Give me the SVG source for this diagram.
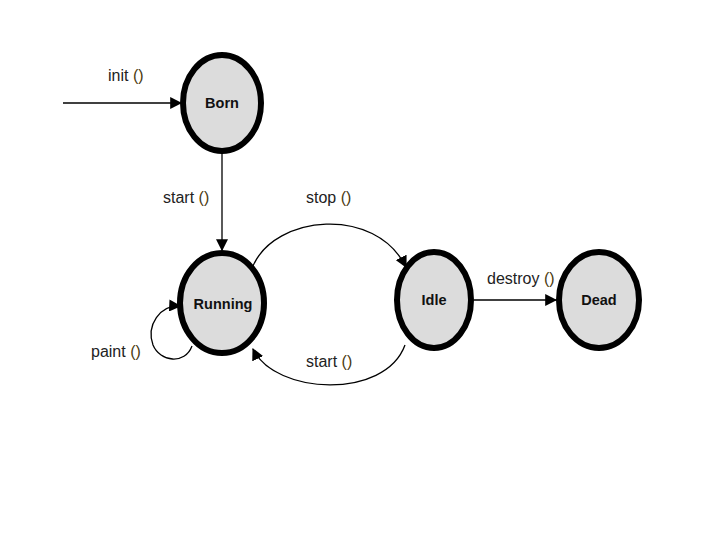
<svg xmlns="http://www.w3.org/2000/svg" width="720" height="540" viewBox="0 0 720 540">
<style>
.node{fill:#dcdcdc;stroke:#000;stroke-width:6}
.nl{font-family:"Liberation Sans",Arial,sans-serif;font-weight:bold;font-size:14.5px;fill:#111;text-anchor:middle}
.el{font-family:"Liberation Sans",Arial,sans-serif;font-size:16px;fill:#222}
.p{fill:#4a3a10}
.c{fill:none;stroke:#000;stroke-width:1.3}
</style>
<defs>
<marker id="ah" viewBox="0 0 10 10" refX="9" refY="5" markerWidth="12" markerHeight="12" markerUnits="userSpaceOnUse" orient="auto">
<path d="M0,0 L10,5 L0,10 z" fill="#000"/>
</marker>
</defs>
<rect width="720" height="540" fill="#fff"/>
<g id="connectors">
<line class="c" x1="63" y1="103" x2="181" y2="103" marker-end="url(#ah)"/>
<line class="c" x1="222" y1="153" x2="222" y2="250" marker-end="url(#ah)"/>
<path class="c" d="M253,266 C275,215 375,205 406,267" marker-end="url(#ah)"/>
<path class="c" d="M405,345 C385,400 275,395 253,349" marker-end="url(#ah)"/>
<path class="c" d="M192,346 C185,365 160,362 153,345 C146,325 160,305 180,306" marker-end="url(#ah)"/>
<line class="c" x1="474" y1="300" x2="556" y2="300" marker-end="url(#ah)"/>
<text class="el" x="108" y="81">init <tspan class="p">()</tspan></text>
<text class="el" x="163" y="203">start <tspan class="p">()</tspan></text>
<text class="el" x="306" y="203">stop <tspan class="p">()</tspan></text>
<text class="el" x="306" y="367">start <tspan class="p">()</tspan></text>
<text class="el" x="91" y="357">paint <tspan class="p">()</tspan></text>
<text class="el" x="487" y="284">destroy <tspan class="p">()</tspan></text>
</g>
<g id="born"><ellipse class="node" cx="222" cy="103" rx="39" ry="48"/><text class="nl" x="222" y="108">Born</text></g>
<g id="running"><ellipse class="node" cx="222" cy="303" rx="42" ry="50"/><text class="nl" x="223" y="309">Running</text></g>
<g id="idle"><ellipse class="node" cx="434" cy="300" rx="37" ry="48"/><text class="nl" x="434" y="305">Idle</text></g>
<g id="dead"><ellipse class="node" cx="599" cy="300" rx="40" ry="48"/><text class="nl" x="599" y="305">Dead</text></g>
</svg>
